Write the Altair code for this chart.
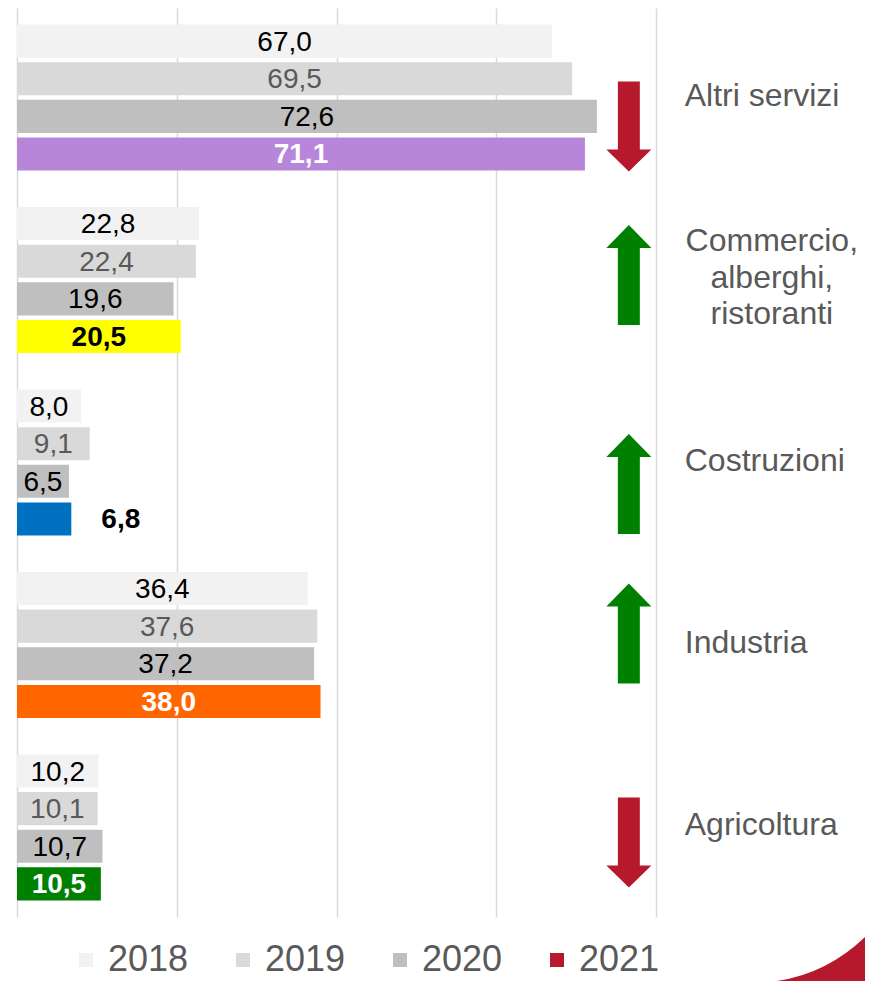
import altair as alt
import pandas as pd

# ---------------- data ----------------
categories = ["Altri servizi", "Commercio, alberghi, ristoranti", "Costruzioni", "Industria", "Agricoltura"]
cat_labels = ["Altri servizi", "Commercio,\nalberghi,\nristoranti", "Costruzioni", "Industria", "Agricoltura"]
years = ["2018", "2019", "2020", "2021"]
v2018 = [67.0, 22.8, 8.0, 36.4, 10.2]
v2019 = [69.5, 22.4, 9.1, 37.6, 10.1]
v2020 = [72.6, 19.6, 6.5, 37.2, 10.7]
v2021 = [71.1, 20.5, 6.8, 38.0, 10.5]
series = [v2018, v2019, v2020, v2021]
x_ticks = [0, 20, 40, 60, 80]

# ---------------- styles ----------------
FONT = "Liberation Sans"
grey_fill = {"2018": "#f2f2f2", "2019": "#d9d9d9", "2020": "#bfbfbf"}
fill_2021 = ["#b886d9", "#ffff00", "#0070c0", "#ff6600", "#008000"]
label_col = {"2018": "#000000", "2019": "#595959", "2020": "#000000"}
label_2021 = ["#ffffff", "#000000", "#000000", "#ffffff", "#ffffff"]
legend_colors = ["#f2f2f2", "#d9d9d9", "#bfbfbf", "#b5192b"]
arrow_dy = [29, -5, 21.5, -11.5, 15]
ARROW_X = 76.6
UP_PATH = "M0,-1L0.45,-0.54L0.22,-0.54L0.22,1L-0.22,1L-0.22,-0.54L-0.45,-0.54Z"
DOWN_PATH = "M-0.244,-1L0.244,-1L0.244,0.51L0.5,0.51L0,1L-0.5,0.51L-0.244,0.51Z"

rows = []
for i, c in enumerate(categories):
    for y, vals in zip(years, series):
        rows.append({
            "cat": c,
            "year": y,
            "value": vals[i],
            "fill": fill_2021[i] if y == "2021" else grey_fill[y],
            "lc": label_2021[i] if y == "2021" else label_col[y],
        })
df = pd.DataFrame(rows)

xscale = alt.Scale(domain=[0, 80], nice=False, zero=True)
yscale = alt.Scale(domain=categories, paddingInner=0.2, paddingOuter=0.0905)
yoff = alt.Scale(domain=years, paddingInner=0.12, paddingOuter=0)

Y = alt.Y("cat:N", scale=yscale, sort=categories, axis=None)
YO = alt.YOffset("year:N", scale=yoff, sort=years)

base = alt.Chart(df).encode(y=Y, yOffset=YO)

bars = base.mark_bar().encode(
    x=alt.X("value:Q", scale=xscale,
            axis=alt.Axis(values=x_ticks, grid=True, labels=False, ticks=False,
                          domain=False, title=None, gridColor="#d9d9d9", gridWidth=1.5)),
    fill=alt.Fill("fill:N", scale=None),
)

lab = base.transform_calculate(
    txt="replace(format(datum.value, '.1f'), '.', ',')",
    lx="datum.year == '2021' && datum.value < 8 ? datum.value + 6.2 : datum.value / 2",
)
lab_norm = lab.transform_filter("datum.year != '2021'").mark_text(
    font=FONT, fontSize=28, baseline="middle", dy=1.5
).encode(x=alt.X("lx:Q", scale=xscale), text="txt:N", color=alt.Color("lc:N", scale=None))
lab_bold = lab.transform_filter("datum.year == '2021'").mark_text(
    font=FONT, fontSize=28, fontWeight="bold", baseline="middle", dy=1.5
).encode(x=alt.X("lx:Q", scale=xscale), text="txt:N", color=alt.Color("lc:N", scale=None))

cat_df = pd.DataFrame({"cat": categories, "lab": cat_labels})
cat_single = alt.Chart(cat_df).transform_filter("indexof(datum.lab, '\\n') < 0").mark_text(
    font=FONT, fontSize=32, color="#595959", align="left", baseline="middle", dy=-2
).encode(x=alt.datum(83.6), y=Y, text="lab:N")
cat_multi = alt.Chart(cat_df).transform_filter("indexof(datum.lab, '\\n') >= 0").mark_text(
    font=FONT, fontSize=32, color="#595959", align="center", baseline="middle",
    lineBreak="\n", lineHeight=36.5, dy=-39
).encode(x=alt.datum(94.5), y=Y, text="lab:N")

arrows = []
for i, c in enumerate(categories):
    up = v2021[i] > v2020[i]
    a = alt.Chart(pd.DataFrame({"cat": [c]})).mark_point(
        shape=UP_PATH if up else DOWN_PATH,
        size=10000 if up else 8100,
        filled=True, opacity=1, strokeWidth=0,
        fill="#008000" if up else "#b5192b",
        yOffset=arrow_dy[i],
    ).encode(x=alt.datum(ARROW_X), y=Y)
    arrows.append(a)

legend_layer = alt.Chart(pd.DataFrame({"year": years})).mark_square(opacity=0).encode(
    x=alt.datum(0),
    color=alt.Color("year:N", scale=alt.Scale(domain=years, range=legend_colors),
                    legend=alt.Legend(orient="none", legendX=51, legendY=934,
                                      direction="horizontal", title=None,
                                      symbolType="square", symbolSize=196,
                                      symbolOpacity=1, symbolStrokeWidth=0,
                                      labelFontSize=36, labelColor="#595959",
                                      labelFont=FONT, labelOffset=4,
                                      columnPadding=36)),
)

swoosh = alt.Chart(pd.DataFrame({"k": [0]})).mark_point(
    shape="M-1,0.5Q0.14,0.33 1,-0.5L1,0.5Z", size=7744, filled=True,
    opacity=1, strokeWidth=0, fill="#b5192b",
).encode(x=alt.value(804), y=alt.value(951))

chart = alt.layer(bars, lab_norm, lab_bold, cat_single, cat_multi, *arrows,
                  legend_layer, swoosh).properties(
    width=639, height=909,
    padding={"left": 9, "top": 0, "right": 209, "bottom": 64},
    autosize=alt.AutoSizeParams(type="none"),
).configure_view(stroke=None)

chart.save("out.html", embed_options={"renderer": "svg", "actions": False})
